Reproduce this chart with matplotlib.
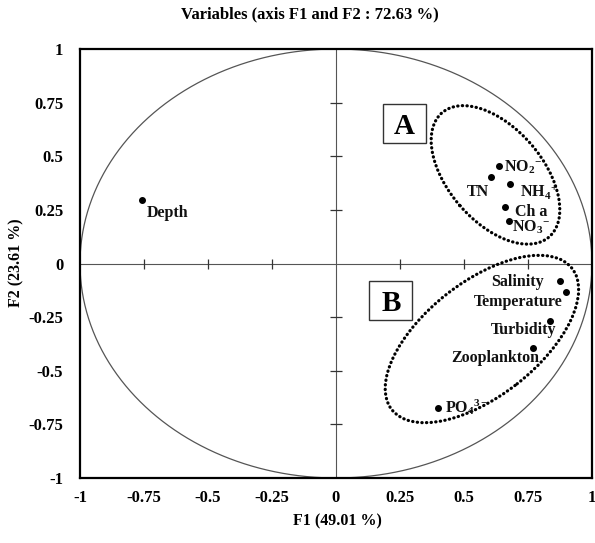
import matplotlib
matplotlib.use("Agg")
import matplotlib.pyplot as plt
import matplotlib.transforms as mtransforms
from matplotlib.patches import Ellipse, Rectangle
import numpy as np

# ---- data ----
variables = ["Depth", "NO$_2$$^{-}$", "TN", "NH$_4$$^{+}$", "Ch a", "NO$_3$$^{-}$",
             "Salinity", "Temperature", "Turbidity", "Zooplankton", "PO$_4$$^{3-}$"]
f1 = [-0.759, 0.638, 0.606, 0.681, 0.660, 0.676, 0.874, 0.900, 0.835, 0.768, 0.400]
f2 = [0.298, 0.454, 0.402, 0.371, 0.262, 0.200, -0.083, -0.134, -0.269, -0.393, -0.673]
tick_vals = [-1, -0.75, -0.5, -0.25, 0, 0.25, 0.5, 0.75, 1]
tick_labels = ["-1", "-0.75", "-0.5", "-0.25", "0", "0.25", "0.5", "0.75", "1"]
title = "Variables (axis F1 and F2 : 72.63 %)"
xlabel = "F1 (49.01 %)"
ylabel = "F2 (23.61 %)"
group_letters = ["A", "B"]
group_letter_pos = [(0.268, 0.655), (0.214, -0.172)]

# label placement (offset pixels, alignment)
label_style = {
    "Depth": ((5, -13), "left"),
    "NO$_2$$^{-}$": ((5, -1), "left"),
    "TN": ((-2, -15), "right"),
    "NH$_4$$^{+}$": ((10, -8), "left"),
    "Ch a": ((10, -5), "left"),
    "NO$_3$$^{-}$": ((3, -7), "left"),
    "Salinity": ((-16, -1), "right"),
    "Temperature": ((-4, -10), "right"),
    "Turbidity": ((7, -9), "right"),
    "Zooplankton": ((7, -10), "right"),
    "PO$_4$$^{3-}$": ((7, 1), "left"),
}

plt.rcParams["font.family"] = ["Liberation Serif", "DejaVu Serif"]
plt.rcParams["mathtext.fontset"] = "custom"
plt.rcParams["mathtext.rm"] = "Liberation Serif:bold"
plt.rcParams["mathtext.it"] = "Liberation Serif:bold"
plt.rcParams["mathtext.bf"] = "Liberation Serif:bold"
plt.rcParams["mathtext.default"] = "bf"

fig = plt.figure(figsize=(5.95, 5.43), dpi=100)
ax = fig.add_axes([80 / 595, 65 / 543, 512 / 595, 429 / 543])
ax.set_xlim(-1, 1)
ax.set_ylim(-1, 1)

# unit circle
th = np.linspace(0, 2 * np.pi, 400)
ax.plot(np.cos(th), np.sin(th), color="#555555", lw=0.9, zorder=1)

# centre axes
ax.axhline(0, color="#555555", lw=0.8, zorder=1)
ax.axvline(0, color="#555555", lw=0.8, zorder=1)
inner = [t for t in tick_vals if t not in (-1, 0, 1)]
ax.plot(inner, [0] * len(inner), ls="none", marker="|", ms=6.5, mew=0.9, color="#333333", zorder=1)
ax.plot([0] * len(inner), inner, ls="none", marker="_", ms=8.5, mew=0.9, color="#333333", zorder=1)

# points
ax.plot(f1, f2, ls="none", marker="o", ms=4, color="black", zorder=3)
for name, x, y in zip(variables, f1, f2):
    off, ha = label_style[name]
    ax.annotate(name, (x, y), xytext=off, textcoords="offset pixels",
                ha=ha, va="center", fontsize=11.5, fontweight="bold", color="#111111")

# dotted group ellipses (sizes in pixels around data centres)
groups = [((0.623, 0.413), 164, 94, -49.2), ((0.570, -0.352), 229, 114, 38.1)]
for (cx, cy), w, h, ang in groups:
    tr = mtransforms.ScaledTranslation(cx, cy, ax.transData)
    e = Ellipse((0, 0), w, h, angle=ang, transform=tr, fill=False,
                edgecolor="black", lw=2.3, linestyle=(0, (0.1, 1.35)), capstyle="round", zorder=2)
    ax.add_patch(e)

# boxed group letters
for letter, (x, y) in zip(group_letters, group_letter_pos):
    tr = mtransforms.ScaledTranslation(x, y, ax.transData)
    ax.add_patch(Rectangle((-21.5, -19.5), 43, 39, transform=tr, fill=True,
                           fc="white", ec="#333333", lw=1.0, zorder=2))
    ax.text(x, y, letter, ha="center", va="center_baseline", fontsize=21, fontweight="bold", zorder=3)

ax.set_xticks(tick_vals)
ax.set_xticklabels(tick_labels)
ax.set_yticks(tick_vals)
ax.set_yticklabels(tick_labels)
ax.tick_params(length=0, labelsize=12, pad=9)
ax.tick_params(axis="y", pad=12)
for lab in ax.get_xticklabels() + ax.get_yticklabels():
    lab.set_fontweight("bold")
for sp in ax.spines.values():
    sp.set_linewidth(1.6)

fig.text(310 / 595, 1 - 14 / 543, title, ha="center", va="center", fontsize=12, fontweight="bold")
fig.text(337 / 595, 1 - 521 / 543, xlabel, ha="center", va="center", fontsize=11.5, fontweight="bold")
fig.text(16 / 595, 1 - 263 / 543, ylabel, ha="center", va="center", rotation=90, fontsize=11.5, fontweight="bold")

fig.savefig("out.png", dpi=100)
